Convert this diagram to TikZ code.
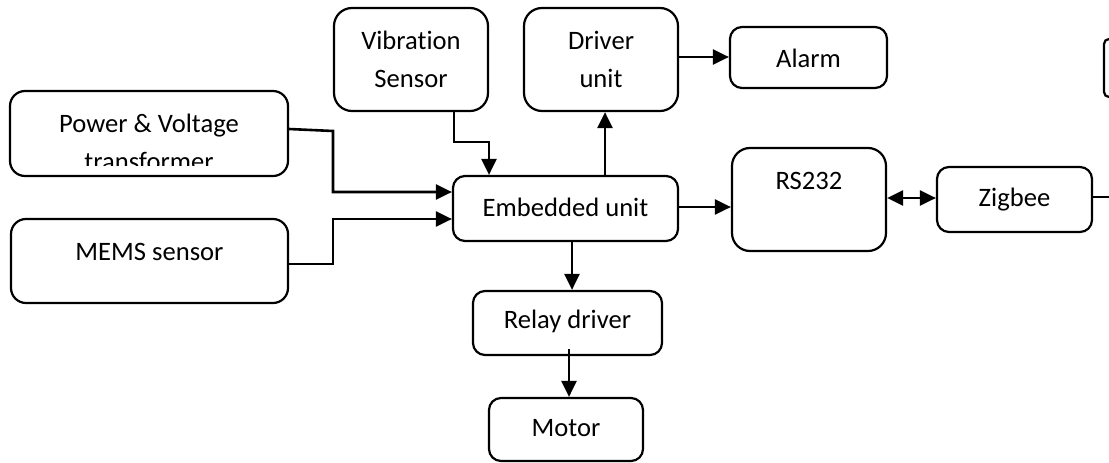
\documentclass[tikz,border=0pt]{standalone}
\usepackage{fontspec}
\setmainfont{Carlito}[Ligatures=NoCommon]
\usetikzlibrary{arrows.meta}
\begin{document}
\begin{tikzpicture}[x=1pt,y=-1pt,
  box/.style={draw,line width=2.2pt,rounded corners=#1,inner sep=0pt},
  box/.default=12pt,
  lbl/.style={inner sep=0pt,align=center,font=\fontsize{26.6}{38}\selectfont},
  conn/.style={line width=2.6pt},
  arr/.style={line width=2.6pt,-{Triangle[length=16pt,width=15pt]}},
  darr/.style={line width=2.6pt,{Triangle[length=16pt,width=15pt]}-{Triangle[length=16pt,width=15pt]}}]
\useasboundingbox (0,0) rectangle (1109,463);
% boxes
\node[box=15pt,minimum width=278pt,minimum height=85pt] (pw) at (149,133.5) {};
\node[box=15pt,minimum width=277pt,minimum height=84pt] (mems) at (149.5,261) {};
\node[box=18pt,minimum width=154pt,minimum height=103pt] (vib) at (411,59.5) {};
\node[box=18pt,minimum width=154pt,minimum height=103pt] (drv) at (601,59.5) {};
\node[box=12pt,minimum width=157pt,minimum height=61pt] (alarm) at (808.5,57.5) {};
\node[box=12pt,minimum width=225pt,minimum height=65pt] (emb) at (565.5,208.5) {};
\node[box=18pt,minimum width=154pt,minimum height=103pt] (rs) at (809,199.5) {};
\node[box=12pt,minimum width=155pt,minimum height=65pt] (zig) at (1014.5,199.5) {};
\node[box=12pt,minimum width=189pt,minimum height=64pt] (relay) at (567.5,323) {};
\node[box=12pt,minimum width=154pt,minimum height=63pt] (motor) at (566,429.5) {};
% texts
\begin{scope}
\clip (10,80) rectangle (288,165.5);
\node[lbl] (pwt) at (149,142) {Power \& Voltage\\transformer};
\end{scope}
\node[lbl] (memst) at (149.5,252) {MEMS sensor};
\node[lbl] (vibt) at (411,59) {Vibration\\Sensor};
\node[lbl] (drvt) at (601,59) {Driver\\unit};
\node[lbl] (alarmt) at (808.5,58) {Alarm};
\node[lbl] (embt) at (565.5,207) {Embedded unit};
\node[lbl] (rst) at (809,181) {RS232};
\node[lbl] (zigt) at (1014.5,200) {Zigbee};
\node[lbl] (relayt) at (567.5,321) {Relay driver};
\node[lbl] (motort) at (566,428) {Motor};
% partial box at the right edge
\draw[line width=2.2pt,rounded corners=5pt] (1110,39) -- (1104,39) -- (1104,97) -- (1110,97);
% connectors
\coordinate (j1) at (333,131);
\coordinate (j2) at (333,192);
\draw[arr] ([yshift=4.5pt]pw.east) -- (j1) -- (j2) -- (emb.west |- j2);
\coordinate (j3) at (333,264);
\coordinate (j4) at (333,219);
\draw[arr] ([yshift=-3pt]mems.east) -- (j3) -- (j4) -- (emb.west |- j4);
\coordinate (j5) at (454,142);
\coordinate (j6) at (489,142);
\draw[arr] (vib.south -| j5) -- (j5) -- (j6) -- (emb.north -| j6);
\coordinate (j7) at (605,150);
\draw[arr] (emb.north -| j7) -- (drv.south -| j7);
\coordinate (ya) at (700,57);
\draw[arr] (drv.east |- ya) -- (alarm.west |- ya);
\coordinate (yb) at (700,207);
\draw[arr] (emb.east |- yb) -- (rs.west |- yb);
\coordinate (yc) at (900,198);
\draw[darr] (rs.east |- yc) -- (zig.west |- yc);
\coordinate (j8) at (1110,197);
\draw[conn] (zig.east |- j8) -- (j8);
\coordinate (j9) at (572,260);
\draw[arr] (emb.south -| j9) -- (relay.north -| j9);
\coordinate (j10) at (569,349);
\draw[arr] (j10) -- (motor.north -| j10);
\end{tikzpicture}
\end{document}
